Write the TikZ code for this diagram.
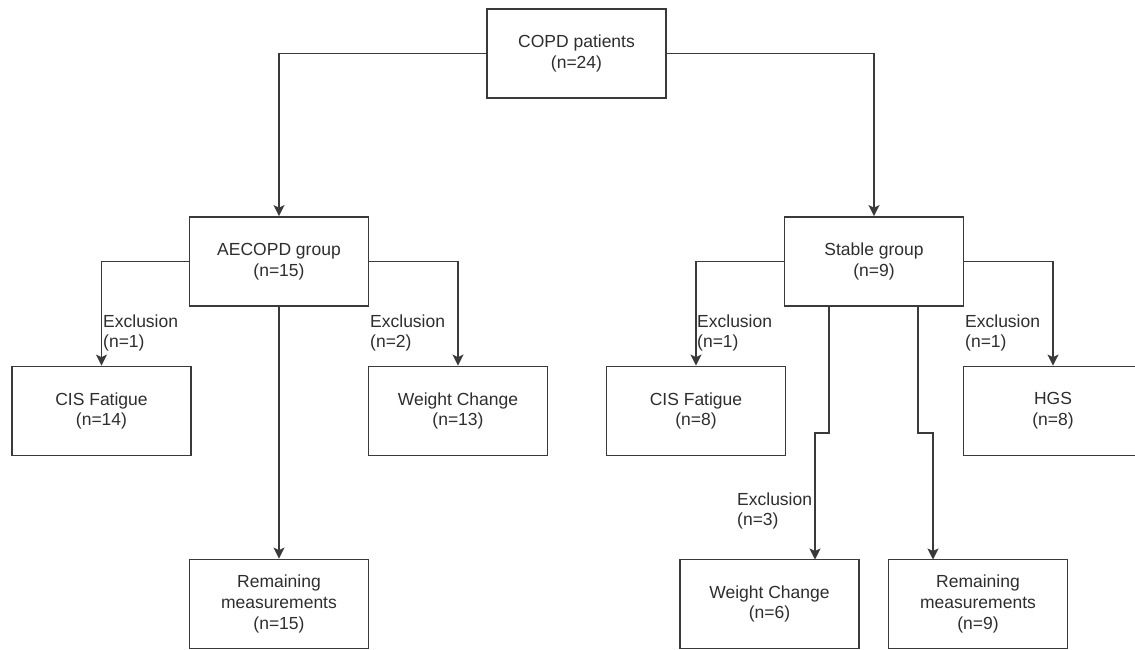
\documentclass[tikz,border=0pt]{standalone}
\usepackage{fontspec}
\setmainfont{Liberation Sans}
\usetikzlibrary{arrows.meta}
\definecolor{boxline}{HTML}{3A3A3A}
\definecolor{txt}{HTML}{2E2E2E}
\begin{document}
\begin{tikzpicture}[x=1pt,y=-1pt,
  box/.style={draw=boxline,line width=1.8pt,minimum width=179pt,minimum height=89pt,
    align=center,text=txt,font=\fontsize{17.5}{20.8}\selectfont,inner sep=0pt},
  lbl/.style={anchor=west,align=left,text=txt,font=\fontsize{17.5}{20.8}\selectfont,inner sep=0pt},
  conn/.style={draw=boxline,line width=1.7pt,-{Stealth[length=11pt,width=11pt,inset=2.5pt]}}]
\clip (0,0) rectangle (1135,649);
\fill[white] (0,0) rectangle (1135,649);
% boxes
\node[box] (copd) at (576.5,53.5) {COPD patients\\(n=24)};
\node[box] (aecopd) at (279,261.5) {AECOPD group\\(n=15)};
\node[box] (stable) at (874,261.5) {Stable group\\(n=9)};
\node[box] (cisL) at (101.5,411) {CIS Fatigue\\(n=14)};
\node[box] (wcL) at (458,411) {Weight Change\\(n=13)};
\node[box] (remL) at (279,604) {Remaining\\measurements\\(n=15)};
\node[box] (cisR) at (696,411) {CIS Fatigue\\(n=8)};
\node[box] (hgs) at (1053,411) {HGS\\(n=8)};
\node[box] (wcR) at (769.5,604) {Weight Change\\(n=6)};
\node[box] (remR) at (978,604) {Remaining\\measurements\\(n=9)};
% connector helper coordinates
\coordinate (sA) at (829,305);
\coordinate (sB) at (918,305);
\coordinate (wA) at (815,559.5);
\coordinate (wB) at (933,559.5);
% connectors
\draw[conn] (copd.west) -| (aecopd.north);
\draw[conn] (copd.east) -| (stable.north);
\draw[conn] (aecopd.west) -| (cisL.north);
\draw[conn] (aecopd.east) -| (wcL.north);
\draw[conn] (aecopd.south) -- (remL.north);
\draw[conn] (stable.west) -| (cisR.north);
\draw[conn] (stable.east) -| (hgs.north);
\draw[conn] (sA) -- (sA |- 0,433) -- (wA |- 0,433) -- (wA);
\draw[conn] (sB) -- (sB |- 0,433) -- (wB |- 0,433) -- (wB);
% labels
\node[lbl] (x1) at (103,333) {Exclusion\\(n=1)};
\node[lbl] (x2) at (370,333) {Exclusion\\(n=2)};
\node[lbl] (x3) at (697,333) {Exclusion\\(n=1)};
\node[lbl] (x4) at (965,333) {Exclusion\\(n=1)};
\node[lbl] (x5) at (737,511) {Exclusion\\(n=3)};
\end{tikzpicture}
\end{document}
